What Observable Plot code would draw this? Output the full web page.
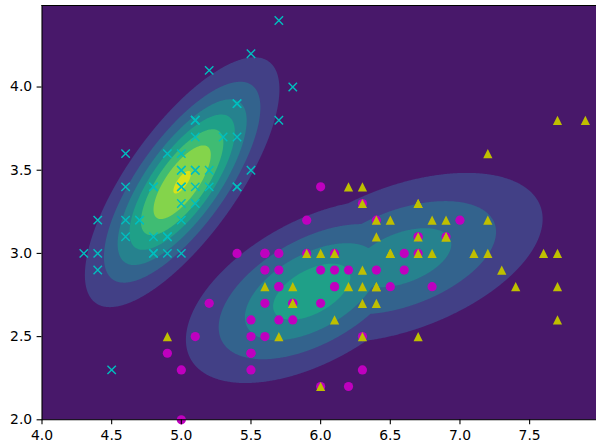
<!DOCTYPE html>
<html><head><meta charset="utf-8">
<script src="https://cdn.jsdelivr.net/npm/d3@7"></script>
<script src="https://cdn.jsdelivr.net/npm/@observablehq/plot@0.6"></script>
<style>body{margin:0;background:#fff;overflow:hidden}</style>
</head><body><div id="chart"></div>
<script>
// Iris sepal length / sepal width per species
const setosaLength=[5.1,4.9,4.7,4.6,5.0,5.4,4.6,5.0,4.4,4.9,5.4,4.8,4.8,4.3,5.8,5.7,5.4,5.1,5.7,5.1,5.4,5.1,4.6,5.1,4.8,5.0,5.0,5.2,5.2,4.7,4.8,5.4,5.2,5.5,4.9,5.0,5.5,4.9,4.4,5.1,5.0,4.5,4.4,5.0,5.1,4.8,5.1,4.6,5.3,5.0];
const setosaWidth=[3.5,3.0,3.2,3.1,3.6,3.9,3.4,3.4,2.9,3.1,3.7,3.4,3.0,3.0,4.0,4.4,3.9,3.5,3.8,3.8,3.4,3.7,3.6,3.3,3.4,3.0,3.4,3.5,3.4,3.2,3.1,3.4,4.1,4.2,3.1,3.2,3.5,3.6,3.0,3.4,3.5,2.3,3.2,3.5,3.8,3.0,3.8,3.2,3.7,3.3];
const versicolorLength=[7.0,6.4,6.9,5.5,6.5,5.7,6.3,4.9,6.6,5.2,5.0,5.9,6.0,6.1,5.6,6.7,5.6,5.8,6.2,5.6,5.9,6.1,6.3,6.1,6.4,6.6,6.8,6.7,6.0,5.7,5.5,5.5,5.8,6.0,5.4,6.0,6.7,6.3,5.6,5.5,5.5,6.1,5.8,5.0,5.6,5.7,5.7,6.2,5.1,5.7];
const versicolorWidth=[3.2,3.2,3.1,2.3,2.8,2.8,3.3,2.4,2.9,2.7,2.0,3.0,2.2,2.9,2.9,3.1,3.0,2.7,2.2,2.5,3.2,2.8,2.5,2.8,2.9,3.0,2.8,3.0,2.9,2.6,2.4,2.4,2.7,2.7,3.0,3.4,3.1,2.3,3.0,2.5,2.6,3.0,2.6,2.3,2.7,3.0,2.9,2.9,2.5,2.8];
const virginicaLength=[6.3,5.8,7.1,6.3,6.5,7.6,4.9,7.3,6.7,7.2,6.5,6.4,6.8,5.7,5.8,6.4,6.5,7.7,7.7,6.0,6.9,5.6,7.7,6.3,6.7,7.2,6.2,6.1,6.4,7.2,7.4,7.9,6.4,6.3,6.1,7.7,6.3,6.4,6.0,6.9,6.7,6.9,5.8,6.8,6.7,6.7,6.3,6.5,6.2,5.9];
const virginicaWidth=[3.3,2.7,3.0,2.9,3.0,3.0,2.5,2.9,2.5,3.6,3.2,2.7,3.0,2.5,2.8,3.2,3.0,3.8,2.6,2.2,3.2,2.8,2.8,2.7,3.3,3.2,2.8,3.0,2.8,3.0,2.8,3.8,2.8,2.8,2.6,3.0,3.4,3.1,3.0,3.1,3.1,3.1,2.7,3.2,3.3,3.0,2.5,3.0,3.4,3.0];

const contourLevels=[0,0.25,0.5,0.75,1.0,1.25,1.5,1.75];
const xTicks=[4.0,4.5,5.0,5.5,6.0,6.5,7.0,7.5];
const yTicks=[2.0,2.5,3.0,3.5,4.0];

// per-class Gaussian fitted from the data arrays (sample covariance)
function gaussian(xs,ys){
  const mx=d3.mean(xs),my=d3.mean(ys),n=xs.length;
  let a=0,b=0,c=0;
  xs.forEach((x,i)=>{const dx=x-mx,dy=ys[i]-my;a+=dx*dx;b+=dx*dy;c+=dy*dy;});
  a/=n-1;b/=n-1;c/=n-1;
  const det=a*c-b*b,norm=1/(2*Math.PI*Math.sqrt(det));
  return (x,y)=>{const dx=x-mx,dy=y-my;return norm*Math.exp(-0.5*(c*dx*dx-2*b*dx*dy+a*dy*dy)/det);};
}
const comps=[gaussian(setosaLength,setosaWidth),gaussian(versicolorLength,versicolorWidth),gaussian(virginicaLength,virginicaWidth)];
const density=(x,y)=>Math.max(comps[0](x,y),comps[1](x,y),comps[2](x,y));

const toRows=(xs,ys)=>xs.map((x,i)=>({x,y:ys[i]}));
const symX={draw(ctx,size){const r=Math.sqrt(size/Math.PI);ctx.moveTo(-r,-r);ctx.lineTo(r,r);ctx.moveTo(r,-r);ctx.lineTo(-r,r);}};
const symTri={draw(ctx,size){const r=Math.sqrt(size/Math.PI);ctx.moveTo(0,-r);ctx.lineTo(r,r);ctx.lineTo(-r,r);ctx.closePath();}};
const symCircle={draw(ctx,size){const r=Math.sqrt(size/Math.PI);ctx.moveTo(r,0);ctx.arc(0,0,r,0,2*Math.PI);}};

const step=contourLevels[1]-contourLevels[0];
const chart=Plot.plot({
  width:596,height:445,
  marginLeft:41.5,marginRight:0,marginTop:5,marginBottom:25.7,
  style:{fontFamily:"'DejaVu Sans', sans-serif",fontSize:"13.9px",color:"black",background:"white"},
  x:{domain:[4,7.98],ticks:xTicks,tickFormat:d3.format(".1f"),tickSize:4.9,tickPadding:5.5,label:null},
  y:{domain:[2,4.49],ticks:yTicks,tickFormat:d3.format(".1f"),tickSize:4.9,tickPadding:4.9,label:null},
  color:{type:"linear",scheme:"viridis",domain:[contourLevels[0]-step/2,contourLevels[contourLevels.length-1]+step/2]},
  marks:[
    Plot.contour({x1:4,x2:7.98,y1:2,y2:4.49,fill:density,thresholds:contourLevels,pixelSize:1,stroke:null}),
    Plot.dot(toRows(setosaLength,setosaWidth),{x:"x",y:"y",symbol:symX,r:4.2,stroke:"#00bfbf",strokeWidth:1.4,fill:"none"}),
    Plot.dot(toRows(versicolorLength,versicolorWidth),{x:"x",y:"y",symbol:symCircle,r:4.6,fill:"#bf00bf",stroke:"none"}),
    Plot.dot(toRows(virginicaLength,virginicaWidth),{x:"x",y:"y",symbol:symTri,r:4.6,fill:"#bfbf00",stroke:"none"}),
    Plot.axisX({ticks:xTicks,tickFormat:d3.format(".1f"),tickSize:4.9,tickPadding:5.5,strokeWidth:1.1,label:null}),
    Plot.axisY({ticks:yTicks,tickFormat:d3.format(".1f"),tickSize:4.9,tickPadding:4.9,strokeWidth:1.1,label:null}),
    Plot.frame({anchor:"top",stroke:"black",strokeWidth:1.1}),
    Plot.frame({anchor:"left",stroke:"black",strokeWidth:1.1}),
    Plot.frame({anchor:"bottom",stroke:"black",strokeWidth:1.1})
  ]
});
document.getElementById("chart").append(chart);
</script></body></html>
